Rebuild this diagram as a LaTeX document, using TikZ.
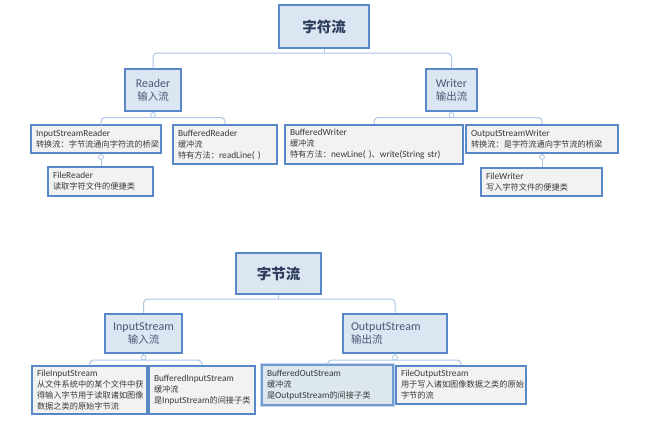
\documentclass[tikz,border=0pt]{standalone}
\usepackage{fontspec}
\setmainfont{Carlito}[Scale=1.14]
\newfontfamily\cjk{Noto Sans CJK SC}
\newcommand\zh[1]{{\cjk #1}}
\definecolor{bd}{RGB}{88,136,200}
\definecolor{lvlf}{RGB}{220,230,242}
\definecolor{leaff}{RGB}{242,242,242}
\definecolor{cn}{RGB}{172,198,232}
\definecolor{titc}{RGB}{45,60,92}
\definecolor{lvlt}{RGB}{72,88,118}
\definecolor{leaft}{RGB}{58,58,58}
\definecolor{glowc}{RGB}{196,214,236}
\definecolor{self}{RGB}{221,231,238}
\begin{document}
\begin{tikzpicture}[x=1pt,y=-1pt,
  box/.style={rectangle, draw=bd, inner sep=0pt},
  titlebox/.style={box, line width=2.6pt, fill=lvlf, text=titc,
    font=\cjk\bfseries\fontsize{14.5}{17}\selectfont},
  lvlbox/.style={box, line width=1.6pt, fill=lvlf, text=lvlt, align=center,
    font=\fontsize{10.5}{13}\selectfont},
  leafbox/.style={box, line width=1.6pt, fill=leaff, text=leaft, align=left,
    inner xsep=5pt, font=\fontsize{8.2}{11}\selectfont},
  selbox/.style={leafbox, fill=self, draw=bd!85,
    preaction={draw=glowc, line width=4.5pt}},
  conn/.style={draw=cn, line width=1pt, rounded corners=4pt},
  knob/.style={circle, draw=cn, fill=white, line width=0.8pt,
    minimum size=5pt, inner sep=0pt}]
\useasboundingbox (0,0) rectangle (650,429);
\fill[white] (0,0) rectangle (650,429);

% ---------------- top tree ----------------
\node[titlebox, minimum width=90, minimum height=43] (t1) at (324,26.5) {字符流};
\node[lvlbox, minimum width=56, minimum height=42] (reader) at (153,90) {Reader\\\zh{输入流}};
\node[lvlbox, minimum width=51, minimum height=42] (writer) at (451.5,90) {Writer\\\zh{输出流}};

\node[leafbox, text width=120, minimum height=28] (isr) at (96,139)
  {InputStreamReader\\\zh{转换流：字节流通向字符流的桥梁}};
\node[leafbox, text width=94, minimum height=39] (br) at (225,144.5)
  {BufferedReader\\\zh{缓冲流}\\\zh{特有方法：}readLine( )};
\node[leafbox, text width=95, minimum height=29] (fr) at (100.5,181.5)
  {FileReader\\\zh{读取字符文件的便捷类}};

\node[leafbox, text width=168, minimum height=39] (bw) at (374,144.5)
  {BufferedWriter\\\zh{缓冲流}\\\zh{特有方法：}newLine( )\zh{、}write(String str)};
\node[leafbox, text width=142, minimum height=28] (osw) at (542,139)
  {OutputStreamWriter\\\zh{转换流：是字符流通向字节流的桥梁}};
\node[leafbox, text width=111, minimum height=28] (fw) at (541.5,182)
  {FileWriter\\\zh{写入字符文件的便捷类}};

\coordinate (t1bar) at (324,53);
\draw[conn] (t1.south) -- (t1bar);
\draw[conn] (reader.north) |- (t1bar) -| (writer.north);

\coordinate (isrtop) at (101,125);
\draw[conn] (reader.south) -- ++(0,4);
\draw[conn] (isrtop) |- (153,117.5) -| (br.north);
\node[knob] (kr) at (153,115) {};

\node[knob] (kisr) at (101,157) {};
\draw[conn] (kisr.north) -- (kisr.north |- isr.south);
\draw[conn] (kisr.south) -- (kisr.south |- fr.north);

\draw[conn] (writer.south) -- ++(0,4);
\draw[conn] (bw.north) |- (451.5,117.5) -| (osw.north);
\node[knob] (kw) at (451.5,115) {};

\node[knob] (kosw) at (542,157) {};
\draw[conn] (kosw.north) -- (kosw.north |- osw.south);
\draw[conn] (kosw.south) -- (kosw.south |- fw.north);

% ---------------- bottom tree ----------------
\node[titlebox, minimum width=85, minimum height=41] (t2) at (278.5,273.5) {字节流};
\node[lvlbox, minimum width=77, minimum height=39] (is) at (143.5,333.5) {InputStream\\\zh{输入流}};
\node[lvlbox, align=left, inner xsep=8pt, text width=88, minimum height=39] (os) at (395,333.5)
  {OutputStream\\\zh{输出流}};

\node[leafbox, text width=105, minimum height=48] (fis) at (89.5,390)
  {FileInputStream\\\zh{从文件系统中的某个文件中获}\\\zh{得输入字节用于读取诸如图像}\\\zh{数据之类的原始字节流}};
\node[leafbox, text width=96, minimum height=48] (bis) at (202,390)
  {BufferedInputStream\\\zh{缓冲流}\\\zh{是}InputStream\zh{的间接子类}};
\node[selbox, text width=121, minimum height=40] (bos) at (327.5,385)
  {BufferedOutStream\\\zh{缓冲流}\\\zh{是}OutputStream\zh{的间接子类}};
\node[leafbox, text width=120, minimum height=38] (fos) at (461,385)
  {FileOutputStream\\\zh{用于写入诸如图像数据之类的原始}\\\zh{字节的流}};

\coordinate (t2bar) at (278.5,299);
\draw[conn] (t2.south) -- (t2bar);
\draw[conn] (is.north) |- (t2bar) -| (os.north);

\draw[conn] (is.south) -- ++(0,4);
\draw[conn] (fis.north) |- (143.5,360) -| (bis.north);
\node[knob] (kis) at (143.5,357.5) {};

\draw[conn] (os.south) -- ++(0,4);
\draw[conn] (bos.north) |- (395,360) -| (fos.north);
\node[knob] (kos) at (395,357.5) {};
\end{tikzpicture}
\end{document}
